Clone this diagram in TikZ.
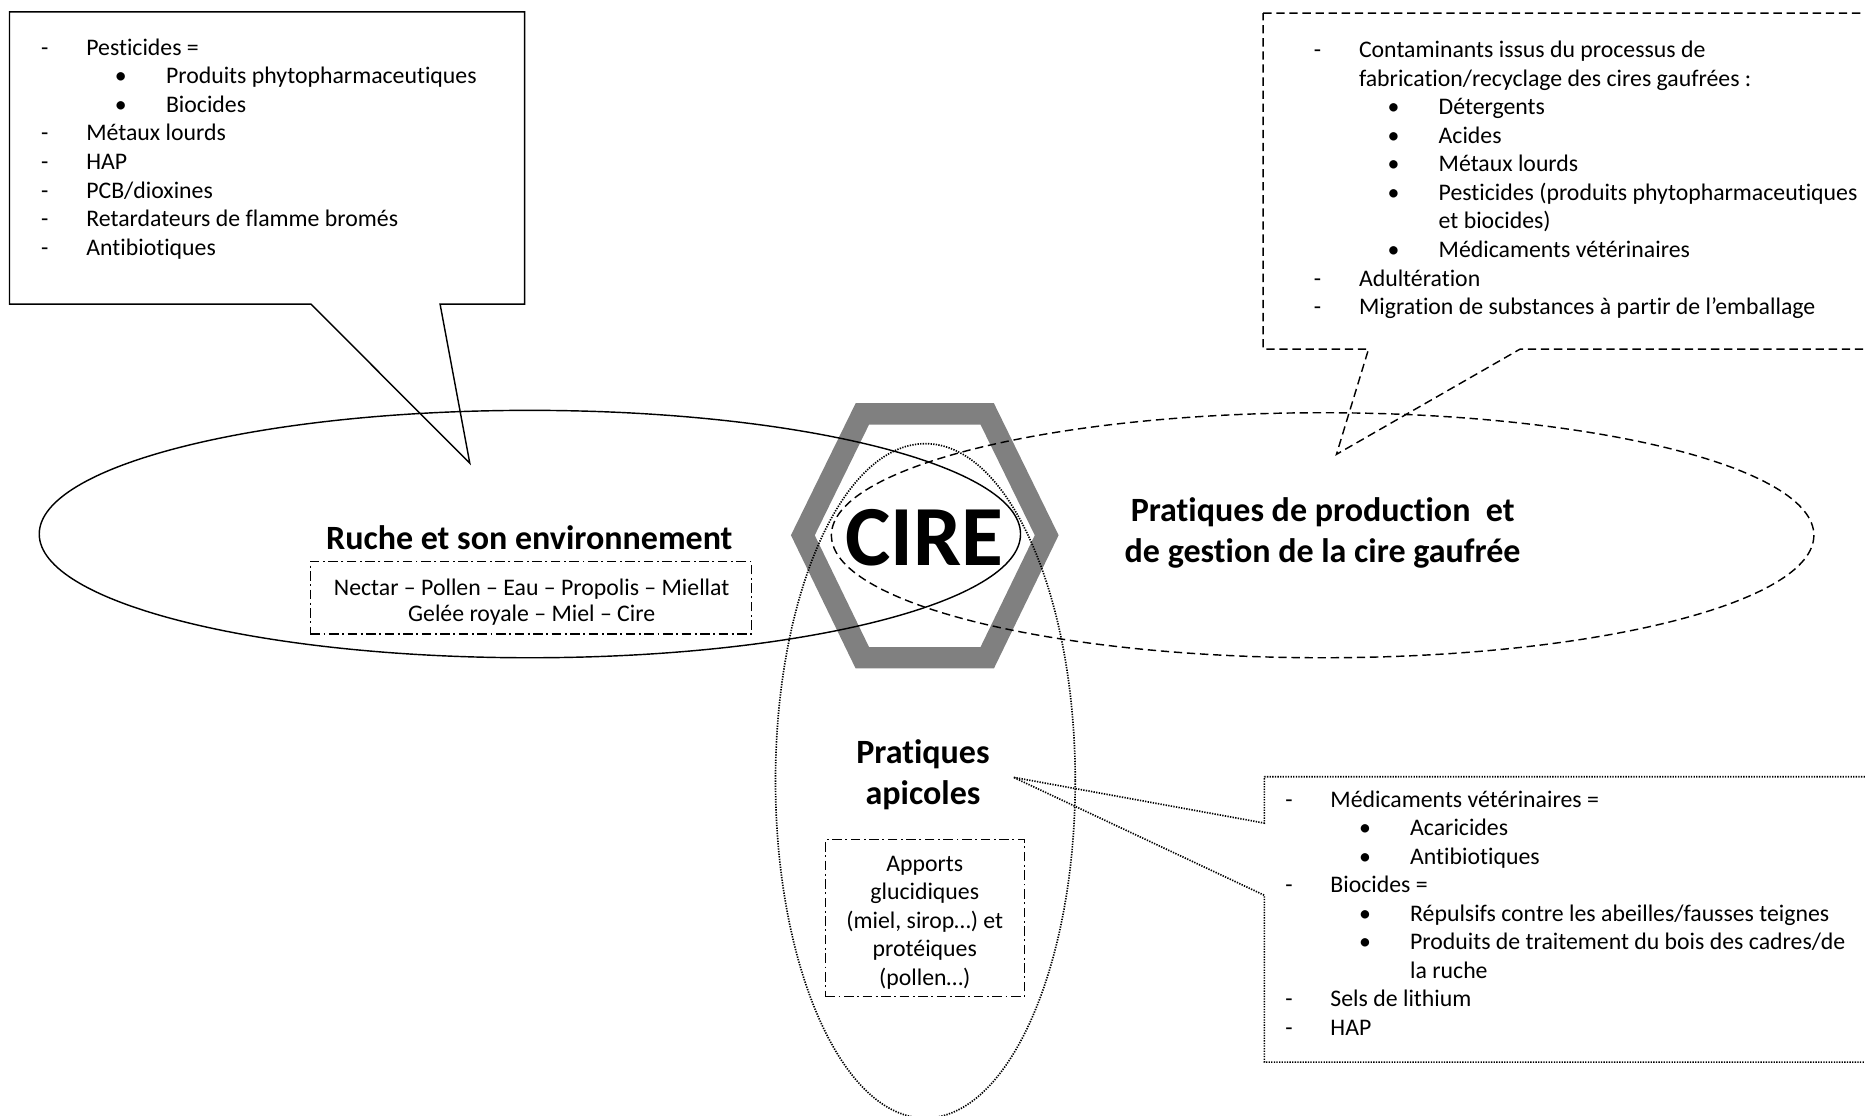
\documentclass[tikz,border=0pt]{standalone}
\usepackage{fontspec}
\setmainfont{Carlito}[Ligatures={TeX,NoCommon}]
\usetikzlibrary{positioning}

\definecolor{grisHex}{RGB}{128,128,128}

% dash, bullet and continuation lines of the lists
\newcommand{\tiret}[1]{\makebox[19pt][l]{-}#1}
\newcommand{\puce}[1]{\hspace*{31pt}\makebox[21.5pt][l]{\textbullet}#1}
\newcommand{\retour}[1]{\hspace*{19pt}#1}
\newcommand{\suite}[1]{\hspace*{52.5pt}#1}

\tikzset{
	liste/.style={anchor=north west, align=left, inner sep=0pt, font=\fontsize{10}{12}\selectfont},
	titre/.style={align=center, inner sep=0pt, font=\fontsize{14.3}{17.2}\selectfont\bfseries},
	cadreSource/.style={draw, line width=0.5pt, dash pattern=on 4pt off 1.5pt on 0.8pt off 1.5pt, inner sep=0pt},
	texteSource/.style={align=center, inner sep=0pt},
	traitTirets/.style={dash pattern=on 3.5pt off 2pt},
	traitPoints/.style={line width=0.7pt, dash pattern=on 0.55pt off 0.55pt},
}

\begin{document}
\begin{tikzpicture}[x=0.5pt,y=-0.5pt,line width=0.6pt]
		
		\useasboundingbox (0,0) rectangle (1568,938);
		\clip (0,0) rectangle (1568,938);
		
		%Hexagon of the wax
		\draw[grisHex, line width=9pt, line join=miter] (725,348) -- (830,348) -- (880,450)
		-- (830,553) -- (725,553) -- (675,450) -- cycle;
		
		%The three zones
		\draw (445.5,449) ellipse (412.5 and 104);
		\draw[traitTirets] (1112,450) ellipse (413 and 103);
		\draw[traitPoints] (778,656.5) ellipse (126 and 283.5);
		
		%Callout of the hive
		\draw (8,10) -- (441,10) -- (441,255.7) -- (370,255.7) -- (395,389.5)
		-- (261.5,255.7) -- (8,255.7) -- cycle;
		
		%Callout of the foundation wax
		\draw[traitTirets] (1062,11) -- (1580,11) -- (1580,293.5) -- (1278,293.5)
		-- (1123.6,382) -- (1150.6,293.5) -- (1062,293.5) -- cycle;
		
		%Callout of the beekeeping
		\draw[traitPoints] (1063,653) -- (1580,653) -- (1580,893) -- (1063,893)
		-- (1063,752.7) -- (852,653.5) -- (1063,692) -- cycle;
		
		%Contaminants of the hive
		\node (listeRuche) [liste] at (34,32) {
			\tiret{Pesticides =}\\
			\puce{Produits phytopharmaceutiques}\\
			\puce{Biocides}\\
			\tiret{Métaux lourds}\\
			\tiret{HAP}\\
			\tiret{PCB/dioxines}\\
			\tiret{Retardateurs de flamme bromés}\\
			\tiret{Antibiotiques}
		};
		
		%Contaminants of the foundation wax
		\node (listeGaufree) [liste] at (1104,34) {
			\tiret{Contaminants issus du processus de}\\
			\retour{fabrication/recyclage des cires gaufrées :}\\
			\puce{Détergents}\\
			\puce{Acides}\\
			\puce{Métaux lourds}\\
			\puce{Pesticides (produits phytopharmaceutiques}\\
			\suite{et biocides)}\\
			\puce{Médicaments vétérinaires}\\
			\tiret{Adultération}\\
			\tiret{Migration de substances à partir de l’emballage}
		};
		
		%Contaminants of the beekeeping
		\node (listeApicole) [liste] at (1080,664) {
			\tiret{Médicaments vétérinaires =}\\
			\puce{Acaricides}\\
			\puce{Antibiotiques}\\
			\tiret{Biocides =}\\
			\puce{Répulsifs contre les abeilles/fausses teignes}\\
			\puce{Produits de traitement du bois des cadres/de}\\
			\suite{la ruche}\\
			\tiret{Sels de lithium}\\
			\tiret{HAP}
		};
		
		%Titles of the zones
		\node (titreRuche) at (445,452) [titre] {Ruche et son environnement};
		\node (titreGaufree) at (1112,448) [titre] {Pratiques de production\ \ et\\de gestion de la cire gaufrée};
		\node (titreApicole) at (776,651) [titre] {Pratiques\\apicoles};
		
		%Sources inside the zones
		\node (cadreRuche) at (446.5,502.5) [cadreSource, minimum width=185.5pt, minimum height=30.5pt] {};
		\node (sourcesRuche) at (447,506) [texteSource, font=\fontsize{10}{11}\selectfont]
		{Nectar – Pollen – Eau – Propolis – Miellat\\Gelée royale – Miel – Cire};
		\node (cadreApicole) at (777.5,772) [cadreSource, minimum width=83.5pt, minimum height=66pt] {};
		\node (apportsApicoles) at (777.5,775.5) [texteSource, font=\fontsize{10}{12}\selectfont]
		{Apports\\glucidiques\\(miel, sirop…) et\\protéiques\\(pollen…)};
		
		%Centre
		\node (cire) at (777,452) [inner sep=0pt, font=\fontsize{36}{40}\selectfont\bfseries] {CIRE};
		
\end{tikzpicture}
\end{document}
